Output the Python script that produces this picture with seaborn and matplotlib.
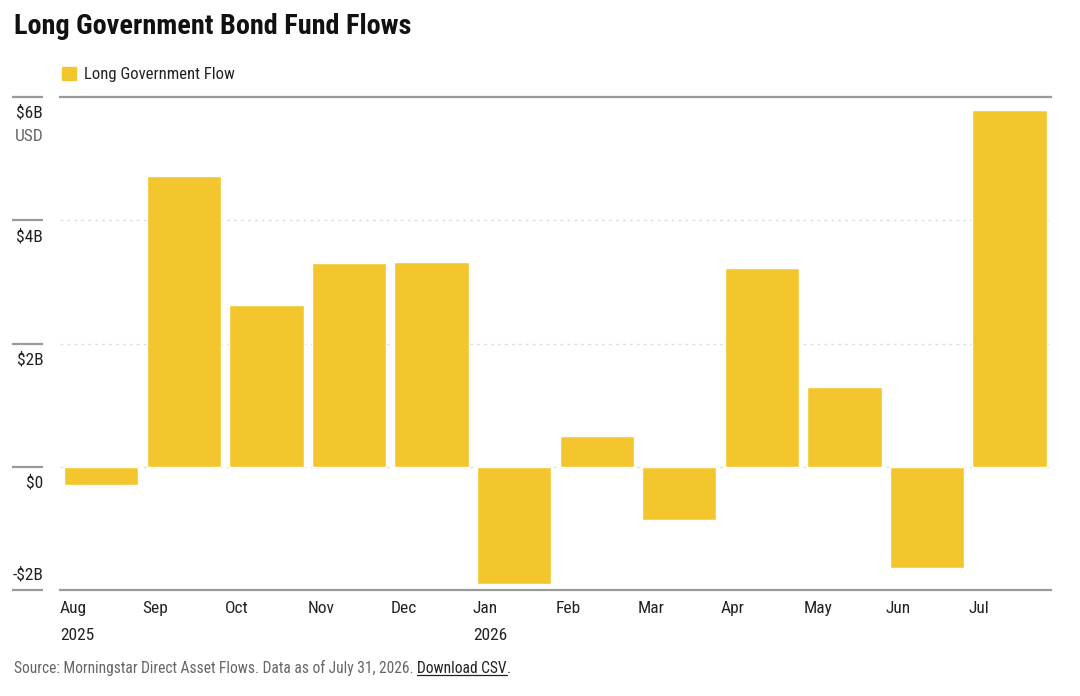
import matplotlib
matplotlib.use("Agg")
import matplotlib.pyplot as plt
from matplotlib import font_manager
import seaborn as sns
import numpy as np
import pandas as pd
from matplotlib.patches import Patch

# Monthly flows, billions USD
months = ["Aug", "Sep", "Oct", "Nov", "Dec", "Jan", "Feb", "Mar", "Apr", "May", "Jun", "Jul"]
years = ["2025", "", "", "", "", "2026", "", "", "", "", "", ""]
flows = [-0.29, 4.72, 2.63, 3.31, 3.32, -1.91, 0.50, -0.86, 3.23, 1.30, -1.65, 5.79]
yticks = [6, 4, 2, 0, -2]
ytick_labels = ["$6B", "$4B", "$2B", "$0", "-$2B"]

df = pd.DataFrame({"month": months, "flow": flows})

sns.set_style("white")

# pick a narrow face if one is installed
names = {f.name for f in font_manager.fontManager.ttflist}
family = "Roboto"
for cand in ["Roboto Condensed", "Liberation Sans Narrow", "Open Sans Condensed", "Arial Narrow"]:
    if cand in names:
        family = cand
        break
plt.rcParams["font.family"] = [family, "DejaVu Sans"]

bar_color = "#F4C62D"
dark = "#222222"
grey = "#666666"
line_grey = "#9a9a9a"

fig = plt.figure(figsize=(10.8, 6.96), dpi=100)
ax = fig.add_axes([0.0556, 0.1523, 0.9174, 0.7083])

sns.barplot(data=df, x="month", y="flow", color=bar_color, width=0.9,
            saturation=1, ax=ax, zorder=3)

ax.set_xlim(-0.5, len(months) - 0.5)
ax.set_ylim(-2, 6)
ax.set_xlabel("")
ax.set_ylabel("")

# dotted gridlines
for v in [0, 2, 4]:
    ax.axhline(v, color="#dddddd", lw=1, ls=(0, (2, 3)), zorder=1)

for s in ["left", "right"]:
    ax.spines[s].set_visible(False)
for s in ["top", "bottom"]:
    ax.spines[s].set_color(line_grey)
    ax.spines[s].set_linewidth(1.6)

# y labels drawn beside short tick marks
ax.set_yticks([])
ytr = ax.get_yaxis_transform()
for v, lab in zip(yticks, ytick_labels):
    ax.plot([-0.048, -0.017], [v, v], transform=ytr, color=line_grey, lw=1.6,
            clip_on=False, solid_capstyle="butt")
    off = 0.25 if v == -2 else -0.26
    ax.text(-0.017, v + off, lab, transform=ytr, ha="right", va="center",
            fontsize=12.5, color=dark)
ax.text(-0.017, 6 - 0.64, "USD", transform=ytr, ha="right", va="center",
        fontsize=12.5, color=grey)

# month labels at left edge of each slot
ax.set_xticks(np.arange(len(months)) - 0.5)
ax.set_xticklabels([m + ("\n" + y if y else "") for m, y in zip(months, years)],
                   ha="left", fontsize=12.5, color=dark, linespacing=1.95)
ax.tick_params(axis="x", length=0, pad=8)

# legend
ax.legend(handles=[Patch(color=bar_color, label="Long Government Flow")],
          loc="lower left", bbox_to_anchor=(0.002, 1.03), frameon=False,
          handlelength=0.85, handleheight=0.85, handletextpad=0.45,
          borderaxespad=0, borderpad=0, fontsize=12, labelcolor=dark)

fig.text(0.013, 0.962, "Long Government Bond Fund Flows", fontsize=20.3,
         fontweight="bold", color="#111111", va="center")

# footer
src = fig.text(0.013, 0.04, "Source: Morningstar Direct Asset Flows. Data as of July 31, 2026. ",
               fontsize=11.2, color=grey, va="center")
fig.canvas.draw()
r = fig.canvas.get_renderer()
bb = src.get_window_extent(r)
dl = fig.text(bb.x1 / fig.bbox.width, 0.04, "Download CSV", fontsize=11.2, color=dark, va="center")
fig.canvas.draw()
bb2 = dl.get_window_extent(r)
fig.text(bb2.x1 / fig.bbox.width, 0.04, ".", fontsize=11.2, color=dark, va="center")
uy = (bb2.y0 + 1) / fig.bbox.height
fig.add_artist(plt.Line2D([bb2.x0 / fig.bbox.width, bb2.x1 / fig.bbox.width], [uy, uy],
                          color=dark, lw=0.9, transform=fig.transFigure))

fig.savefig("out.png", dpi=100)
